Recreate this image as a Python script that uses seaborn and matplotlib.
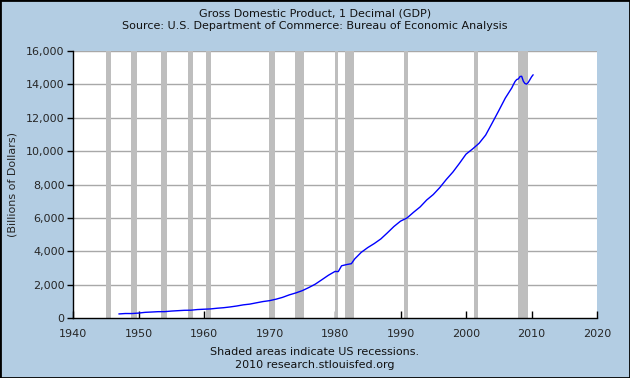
import numpy as np
import pandas as pd
import matplotlib.pyplot as plt
import seaborn as sns
from matplotlib.patches import Rectangle
from matplotlib.ticker import FuncFormatter

# GDP, billions of dollars
years = [1947.0, 1948.0, 1949.0, 1950.0, 1951.0, 1952.0, 1953.0, 1954.0, 1955.0, 1956.0,
         1957.0, 1958.0, 1959.0, 1960.0, 1961.0, 1962.0, 1963.0, 1964.0, 1965.0, 1966.0,
         1967.0, 1968.0, 1969.0, 1970.0, 1971.0, 1972.0, 1973.0, 1974.0, 1975.0, 1976.0,
         1977.0, 1978.0, 1979.0, 1980.0, 1980.5, 1981.0, 1981.75, 1982.5, 1983.0, 1984.0,
         1985.0, 1986.0, 1987.0, 1988.0, 1989.0, 1990.0, 1991.0, 1992.0, 1993.0, 1994.0,
         1995.0, 1996.0, 1997.0, 1998.0, 1999.0, 2000.0, 2001.0, 2002.0, 2003.0, 2004.0,
         2005.0, 2006.0, 2007.0, 2007.25, 2007.5, 2007.75, 2008.0, 2008.25, 2008.5, 2008.75,
         2009.0, 2009.25, 2009.5, 2009.75, 2010.0, 2010.25]
gdp = [243, 269, 267, 294, 339, 358, 379, 380, 415, 438,
       461, 467, 507, 526, 544, 585, 617, 663, 719, 788,
       833, 910, 985, 1039, 1127, 1238, 1383, 1500, 1638, 1825,
       2031, 2295, 2563, 2790, 2780, 3128, 3200, 3255, 3537, 3933,
       4220, 4463, 4739, 5104, 5484, 5803, 5996, 6338, 6657, 7072,
       7398, 7817, 8304, 8747, 9268, 9817, 10128, 10470, 10961, 11686,
       12422, 13178, 13795, 13997, 14179, 14291, 14328, 14472, 14485, 14191,
       14050, 14015, 14115, 14277, 14447, 14575]

# NBER recessions
rec_start = [1945.1, 1948.9, 1953.5, 1957.6, 1960.3, 1969.9, 1973.9, 1980.0, 1981.5, 1990.5, 2001.2, 2007.9]
rec_end = [1945.8, 1949.8, 1954.4, 1958.3, 1961.1, 1970.9, 1975.2, 1980.5, 1982.9, 1991.2, 2001.9, 2009.5]

df = pd.DataFrame({"year": years, "gdp": gdp})

sns.set_theme(style="white")
plt.rcParams.update({
    'font.family': ['DejaVu Sans'],
    'font.size': 8,
    'text.color': '#111111',
})

bg = "#B3CDE3"
fig = plt.figure(figsize=(6.3, 3.78), dpi=100, facecolor=bg)
ax = fig.add_axes([73 / 630, 1 - 318 / 378, (597 - 73) / 630, (318 - 51) / 378])
ax.set_facecolor("white")

# recession shading
for s, e in zip(rec_start, rec_end):
    ax.axvspan(s, e, color="#BEBEBE", lw=0, zorder=1)

for yv in range(2000, 16001, 2000):
    ax.axhline(yv, color="#A8A8A8", lw=1, zorder=0.5)

sns.lineplot(data=df, x="year", y="gdp", ax=ax, color="#0000FF", lw=1, zorder=3)

ax.set_xlim(1940, 2020)
ax.set_ylim(0, 16000)
ax.set_xticks(range(1940, 2021, 10))
ax.set_yticks(range(0, 16001, 2000))
ax.yaxis.set_major_formatter(FuncFormatter(lambda v, _: f"{int(v):,}"))
ax.tick_params(axis="x", direction="in", length=5, width=1, color="black", labelsize=8, pad=8)
ax.tick_params(axis="y", direction="out", length=4, width=1, color="black", labelsize=8, pad=2)
ax.tick_params(axis="both", which="both", bottom=True, left=True, top=False, right=False)

for side in ["top", "right"]:
    ax.spines[side].set_visible(False)
for side in ["left", "bottom"]:
    ax.spines[side].set_color("black")
    ax.spines[side].set_linewidth(1)

ax.set_xlabel("")
ax.set_ylabel("(Billions of Dollars)", fontsize=8, labelpad=6)

fig.text(0.5, 1 - 13 / 378, "Gross Domestic Product, 1 Decimal (GDP)", ha="center", va="center", fontsize=8)
fig.text(0.5, 1 - 26 / 378, "Source: U.S. Department of Commerce: Bureau of Economic Analysis",
         ha="center", va="center", fontsize=8)
fig.text(0.5, 1 - 352 / 378, "Shaded areas indicate US recessions.", ha="center", va="center", fontsize=8)
fig.text(0.5, 1 - 365 / 378, "2010 research.stlouisfed.org", ha="center", va="center", fontsize=8)

# outer black frame
fig.patches.append(Rectangle((0, 0), 1, 1, transform=fig.transFigure, fill=False,
                             edgecolor="black", lw=2, zorder=10))

fig.savefig("out.png", dpi=100, facecolor=bg)
